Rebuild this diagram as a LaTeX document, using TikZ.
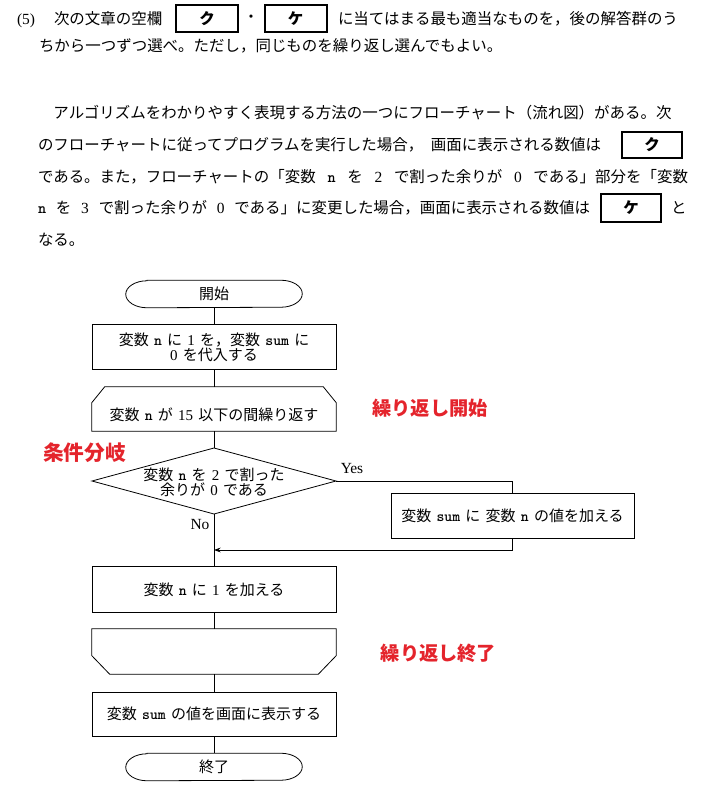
\documentclass[tikz,border=0pt]{standalone}
\usepackage{fontspec}
\newfontfamily\cjk{Noto Sans CJK JP}
\newfontfamily\serifl{Liberation Serif}
\usetikzlibrary{arrows.meta}
\definecolor{labred}{RGB}{228,36,44}
\newcommand\lat[1]{{\serifl #1}}
\newcommand\tn{{\ttfamily\bfseries n}}
\newcommand\tsum{{\ttfamily\bfseries sum}}
\newcommand\ks{\hspace{0.35em}}
\newcommand\stgap{\hspace{1pt plus 1fil}}
\tikzset{
  body/.style={anchor=base west, inner sep=0pt, outer sep=0pt, font=\fontsize{11.6}{14}\selectfont\cjk},
  conn/.style={line width=0.6pt},
  proc/.style={draw, line width=0.6pt, minimum width=183pt, minimum height=34pt, inner sep=0pt, align=center, font=\fontsize{11.25}{10.5}\selectfont\cjk},
  blank/.style={minimum width=183pt, minimum height=33pt, inner sep=0pt},
  termbox/.style={minimum width=132pt, minimum height=20.25pt, inner sep=0pt, font=\fontsize{11.25}{13}\selectfont\cjk},
  fltext/.style={inner sep=0pt, align=center, font=\fontsize{11.25}{11.25}\selectfont\cjk},
  ansbox/.style={draw, line width=1.5pt, inner sep=0pt, font=\fontsize{11.6}{14}\selectfont\cjk\bfseries},
  redlab/.style={text=labred, inner sep=0pt, font=\fontsize{14.4}{16}\selectfont\cjk\bfseries},
  lattext/.style={inner sep=0pt, font=\fontsize{11.6}{13}\selectfont\serifl},
}
\begin{document}
\begin{tikzpicture}[x=0.75pt,y=-0.75pt]
\useasboundingbox (0,0) rectangle (704,792);

% ---------- question text ----------
\node[body, font=\fontsize{11.6}{14}\selectfont\serifl] (q5) at (17,24.5) {(5)};
\node[body] (l1a) at (54,24.5) {次の文章の空欄};
\node[ansbox, minimum width=46.5pt, minimum height=20.25pt] (k1) at (207,18.5) {ク};
\node[body, anchor=center] (dot) at (251,19) {・};
\node[ansbox, minimum width=46.5pt, minimum height=20.25pt] (k2) at (295.5,18.5) {ケ};
\node[body] (l1b) at (338,24.5) {に当てはまる最も適当なものを，後の解答群のう};
\node[body] (l2) at (39,52) {ちから一つずつ選べ。ただし，同じものを繰り返し選んでもよい。};

\node[body] (p1) at (38,118.5) {　アルゴリズムをわかりやすく表現する方法の一つにフローチャート（流れ図）がある。次};
\node[body] (p2) at (38,150.5) {のフローチャートに従ってプログラムを実行した場合，\hspace{0.5em}画面に表示される数値は};
\node[ansbox, minimum width=45pt, minimum height=19.5pt] (k3) at (652,145) {ク};
\node[body] (p3) at (38,182.5) {\makebox[487.5pt][s]{である。また，フローチャートの「変数\stgap\tn\stgap を\stgap\lat{2}\stgap で割った余りが\stgap\lat{0}\stgap である」部分を「変数}};
\node[body] (p4) at (38,213.5) {\makebox[414pt][s]{\tn\stgap を\stgap\lat{3}\stgap で割った余りが\stgap\lat{0}\stgap である」に変更した場合，画面に表示される数値は}};
\node[ansbox, minimum width=45pt, minimum height=21pt] (k4) at (631,208) {ケ};
\node[body] (p4b) at (671,213.5) {と};
\node[body] (p5) at (38,245.5) {なる。};

% ---------- flowchart ----------
\node[termbox] (st) at (214,294) {開始};
\draw[conn] ([xshift=16pt]st.north west) -- ([xshift=-16pt]st.north east)
  arc[start angle=90, end angle=-90, x radius=16pt, y radius=10.125pt]
  -- ([xshift=16pt]st.south west)
  arc[start angle=270, end angle=90, x radius=16pt, y radius=10.125pt] -- cycle;

\node[proc] (b1) at (214,347) {変数\ks\tn\ks に\ks\lat{1}\ks を，変数\ks\tsum\ks に\\\lat{0}\ks を代入する};

\node[blank] (ls) at (214,409) {};
\draw[conn] ([xshift=9.75pt]ls.north west) -- ([xshift=-9.75pt]ls.north east)
  -- ([yshift=-12pt]ls.north east) -- (ls.south east) -- (ls.south west)
  -- ([yshift=-12pt]ls.north west) -- cycle;
\node[fltext] (lstxt) at (214,415) {変数\ks\tn\ks が\ks\lat{15}\ks 以下の間繰り返す};

\coordinate (dT) at (214,448);
\coordinate (dL) at (92,481);
\coordinate (dR) at (336,481);
\coordinate (dB) at (214,514);
\draw[conn] (dT) -- (dR) -- (dB) -- (dL) -- cycle;
\node[fltext] (dtxt) at (214,482) {変数\ks\tn\ks を\ks\lat{2}\ks で割った\\余りが\ks\lat{0}\ks である};

\node[proc, minimum width=182.25pt, minimum height=33.75pt] (yb) at (512.5,515.5) {変数\ks\tsum\ks に\ks 変数\ks\tn\ks の値を加える};
\coordinate (j) at (214,550);

\node[proc] (b2) at (214,589.5) {変数\ks\tn\ks に\ks\lat{1}\ks を加える};

\node[blank, minimum height=33.75pt] (le) at (214,651.5) {};
\draw[conn] (le.north west) -- (le.north east) -- ([yshift=14pt]le.south east)
  -- ([xshift=-13.5pt]le.south east) -- ([xshift=13.5pt]le.south west)
  -- ([yshift=14pt]le.south west) -- cycle;

\node[proc, minimum height=33pt] (b3) at (214,714) {変数\ks\tsum\ks の値を画面に表示する};

\node[termbox] (en) at (214,767) {終了};
\draw[conn] ([xshift=16pt]en.north west) -- ([xshift=-16pt]en.north east)
  arc[start angle=90, end angle=-90, x radius=16pt, y radius=10.125pt]
  -- ([xshift=16pt]en.south west)
  arc[start angle=270, end angle=90, x radius=16pt, y radius=10.125pt] -- cycle;

% connectors
\draw[conn] (st.south) -- (b1.north);
\draw[conn] (b1.south) -- (ls.north);
\draw[conn] (ls.south) -- (dT);
\draw[conn] (dB) -- (b2.north);
\draw[conn] (dR) -| (yb.north);
\draw[conn, -{Stealth[length=5pt, width=3.6pt]}] (yb.south) |- (j);
\draw[conn] (b2.south) -- (le.north);
\draw[conn] (le.south) -- (b3.north);
\draw[conn] (b3.south) -- (en.north);

\node[lattext] (yes) at (352,469) {Yes};
\node[lattext] (no) at (200,525) {No};

% red annotations
\node[redlab] (r1) at (430,408) {繰り返し開始};
\node[redlab, font=\fontsize{15.5}{17}\selectfont\cjk\bfseries] (r2) at (84.5,453) {条件分岐};
\node[redlab] (r3) at (438.5,653) {繰り返し終了};
\end{tikzpicture}
\end{document}
